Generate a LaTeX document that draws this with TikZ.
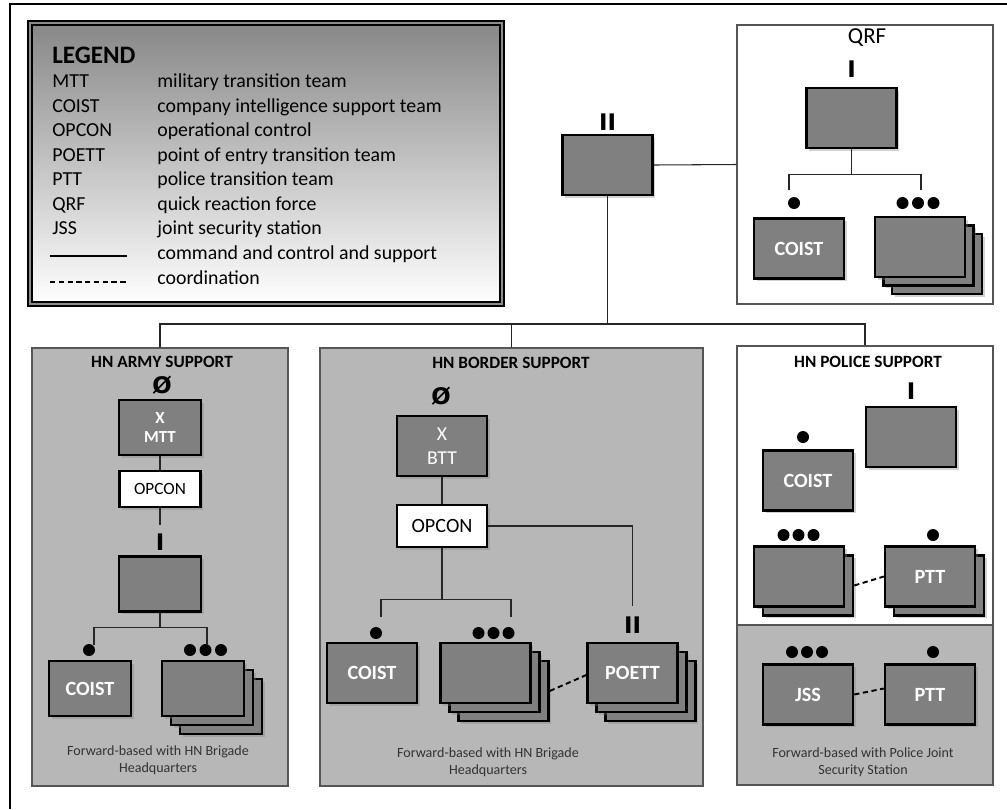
\documentclass[tikz,border=0pt]{standalone}
\usepackage{fontspec}
\setmainfont{Carlito}
\newfontfamily\echfont{DejaVu Sans}
\usetikzlibrary{positioning, shadows, calc}
\definecolor{boxgray}{RGB}{128,128,128}
\definecolor{panelgray}{RGB}{183,183,183}
\definecolor{rimgray}{RGB}{85,85,85}

\begin{document}
\begin{tikzpicture}
[x=0.02cm, y=-0.02cm,
 unitbox/.style={rectangle, draw=black, line width=1.4pt, fill=boxgray, text=white,
   minimum width=1.8cm, minimum height=1.2cm, inner sep=1pt, align=center,
   font=\bfseries\fontsize{11.5}{13}\selectfont,
   drop shadow={shadow xshift=1.5pt, shadow yshift=-1.5pt, opacity=.35}},
 armyunit/.style={unitbox, minimum width=1.64cm, minimum height=1.1cm},
 opcon/.style={unitbox, fill=white, text=black, font=\fontsize{11.5}{13}\selectfont},
 panel/.style={rectangle, draw=rimgray, line width=0.8pt, fill=panelgray, inner sep=0pt},
 legendbox/.style={rectangle, draw=black, line width=1.2pt, double=black!45,
   double distance=1pt, top color=black!47, bottom color=white, inner sep=0pt},
 echelon/.style={inner sep=0pt, outer sep=0pt, font=\echfont\bfseries\fontsize{13}{13}\selectfont},
 echdot/.style={circle, fill=black, inner sep=0pt, minimum size=0.24cm},
 paneltitle/.style={font=\bfseries\fontsize{9.8}{11}\selectfont},
 footer/.style={align=center, text=black!80, font=\fontsize{8}{9.8}\selectfont},
 legtext/.style={anchor=base west, inner sep=0pt, font=\fontsize{11.3}{13}\selectfont},
 link/.style={draw=black!85, line width=0.6pt},
 coordline/.style={line width=1.1pt, dash pattern=on 3pt off 2pt}]

\useasboundingbox (0,0) rectangle (1007,809);
\draw[line width=1.7pt] (10,809) -- (10,4) -- (1007,4);

% legend
\node[legendbox, minimum width=9.44cm, minimum height=5.62cm] (legend) at (266,163.5) {};
\node[legtext, font=\bfseries\fontsize{14.3}{15}\selectfont] (legtitle) at (52,63) {LEGEND};
\foreach \abbr/\full [count=\i] in {MTT/military transition team,
  COIST/company intelligence support team, OPCON/operational control,
  POETT/point of entry transition team, PTT/police transition team,
  QRF/quick reaction force, JSS/joint security station} {
  \node[legtext] (abbr\i) at (52,{63+24.55*\i}) {\abbr};
  \node[legtext] (full\i) at (157,{63+24.55*\i}) {\full};
}
\node[legtext] (full8) at (157,259.5) {command and control and support};
\node[legtext] (full9) at (157,284) {coordination};
\coordinate (solidA) at (50,256);
\coordinate (solidB) at (127,256);
\coordinate (dashA) at (50,282);
\coordinate (dashB) at (127,282);
\draw[line width=1.1pt] (solidA) -- (solidB);
\draw[coordline] (dashA) -- (dashB);

% QRF
\node[panel, fill=white, minimum width=5.12cm, minimum height=5.58cm] (qrf) at (865,164.5) {};
\node[font=\fontsize{13}{14}\selectfont] (qrftitle) at (867,38) {QRF};
\node[unitbox] (qrfhq) at (851.5,118) {};
\node[echelon, above=5pt of qrfhq] (qrfech) {I};
\node[unitbox] (qrfcoist) at (799,248.5) {COIST};
\node[unitbox] (qrfplt3) at (937,264) {};
\node[unitbox] (qrfplt2) at (928.5,255.5) {};
\node[unitbox] (qrfplt) at (920,247) {};
\node[echdot] (qrfdot) at (794,203) {};
\foreach \k in {1,2,3}
  \node[echdot] (qrfdots\k) at ({887+15.5*\k},203) {};
\draw[link] (qrfhq.south) -- ++(0,25) coordinate (qrfbus);
\coordinate (qrfleg1) at (789,190);
\coordinate (qrfleg2) at (921,190);
\draw[link] (qrfleg1) |- (qrfbus) -| (qrfleg2);

% battalion
\node[unitbox] (hq) at (607.5,165) {};
\node[echelon, above=2pt of hq] (hqech) {II};
\coordinate (bus) at (607.5,324);

% HN army support
\node[panel, minimum width=5.12cm, minimum height=8.76cm] (army) at (160,567) {};
\node[paneltitle] (armytitle) at (162,362) {HN ARMY SUPPORT};
\node[echelon] (armyech) at (162,385) {Ø};
\node[armyunit, font=\bfseries\fontsize{9.6}{11.3}\selectfont] (mtt) at (160,427.5) {X\\MTT};
\node[opcon, minimum width=1.62cm, minimum height=0.72cm,
  font=\fontsize{9.8}{11}\selectfont] (armyopcon) at (160,489) {OPCON};
\node[armyunit] (armybn) at (160,584) {};
\node[echelon, above=3pt of armybn] (armybnech) {I};
\node[armyunit] (armycoist) at (90,688.5) {COIST};
\node[armyunit] (armyplt3) at (221,706.5) {};
\node[armyunit] (armyplt2) at (212,697.5) {};
\node[armyunit] (armyplt) at (203,688.5) {};
\node[echdot] (armydot) at (89,650) {};
\foreach \k in {1,2,3}
  \node[echdot] (armydots\k) at ({174.5+15.5*\k},650) {};
\node[footer] (armynote) at (158,760) {Forward-based with HN Brigade\\Headquarters};
\draw[link] (mtt) -- (armyopcon);
\draw[link, shorten >=5pt] (armyopcon) -- (armybnech);
\draw[link] (armybn.south) -- ++(0,15) coordinate (armybus);
\coordinate (armyleg1) at (94,645);
\coordinate (armyleg2) at (207,645);
\draw[link] (armyleg1) |- (armybus) -| (armyleg2);

% HN border support
\node[panel, minimum width=7.66cm, minimum height=8.76cm] (border) at (511.5,567) {};
\node[paneltitle] (bordertitle) at (511,363) {HN BORDER SUPPORT};
\node[echelon] (borderech) at (441,396) {Ø};
\node[unitbox, font=\fontsize{11.2}{14}\selectfont] (btt) at (442,446) {X\\BTT};
\node[opcon, minimum height=0.84cm] (borderopcon) at (442,526) {OPCON};
\node[unitbox] (bordercoist) at (372,673) {COIST};
\node[unitbox] (borderplt3) at (503.5,691) {};
\node[unitbox] (borderplt2) at (494.5,682) {};
\node[unitbox] (borderplt) at (485.5,673) {};
\node[unitbox] (poett3) at (650.5,691) {};
\node[unitbox] (poett2) at (641.5,682) {};
\node[unitbox] (poett) at (632.5,673) {POETT};
\node[echelon, above=5pt of poett] (poettech) {II};
\node[echdot] (borderdot) at (376,633) {};
\foreach \k in {1,2,3}
  \node[echdot] (borderdots\k) at ({463.5+15*\k},633) {};
\node[footer] (bordernote) at (488,762) {Forward-based with HN Brigade\\Headquarters};
\draw[link] (btt) -- (borderopcon);
\draw[link, shorten >=6pt] (borderopcon.east) -| (poettech.north);
\draw[link] (borderopcon.south) -- ++(0,51) coordinate (borderbus);
\coordinate (borderleg1) at (381,617);
\coordinate (borderleg2) at (511,617);
\draw[link] (borderleg1) |- (borderbus) -| (borderleg2);
\draw[coordline] (borderplt3.east) -- ($(poett.west)+(0,2)$);

% HN police support
\node[panel, fill=white, minimum width=5.12cm, minimum height=8.78cm] (police) at (865,565.5) {};
\node[panel, minimum width=5.12cm, minimum height=3.2cm] (jssarea) at (865,705) {};
\node[paneltitle] (policetitle) at (868,362) {HN POLICE SUPPORT};
\node[unitbox] (policehq) at (911,437) {};
\node[echelon, above=3.5pt of policehq] (policeech) {I};
\node[unitbox] (policecoist) at (808,480.5) {COIST};
\node[echdot] (policecoistdot) at (803,437) {};
\node[unitbox] (policeplt2) at (808,585.5) {};
\node[unitbox] (policeplt) at (799,576.5) {};
\foreach \k in {1,2,3}
  \node[echdot] (policedots\k) at ({768.5+15*\k},535) {};
\node[unitbox] (policeptt2) at (939,585.5) {};
\node[unitbox] (policeptt) at (930,576.5) {PTT};
\node[echdot] (policepttdot) at (933,535) {};
\node[unitbox] (jss) at (808,694.5) {JSS};
\foreach \k in {1,2,3}
  \node[echdot] (jssdots\k) at ({777+15*\k},652) {};
\node[unitbox] (jssptt) at (930,694.5) {PTT};
\node[echdot] (jsspttdot) at (933,652) {};
\node[footer] (policenote) at (863,762) {Forward-based with Police Joint\\Security Station};
\draw[coordline] (policeplt2.east) -- ($(policeptt.west)+(0,0)$);
\draw[coordline] (jss.east) -- ($(jssptt.west)+(0,-6)$);

% command links
\draw[link] (hq.east) -- (qrf.west);
\draw[link] (hq.south) -- (bus);
\draw[link] (army.north) |- (bus) -| (police.north);
\draw[link] (border.north) -- (border.north |- bus);

\end{tikzpicture}
\end{document}
